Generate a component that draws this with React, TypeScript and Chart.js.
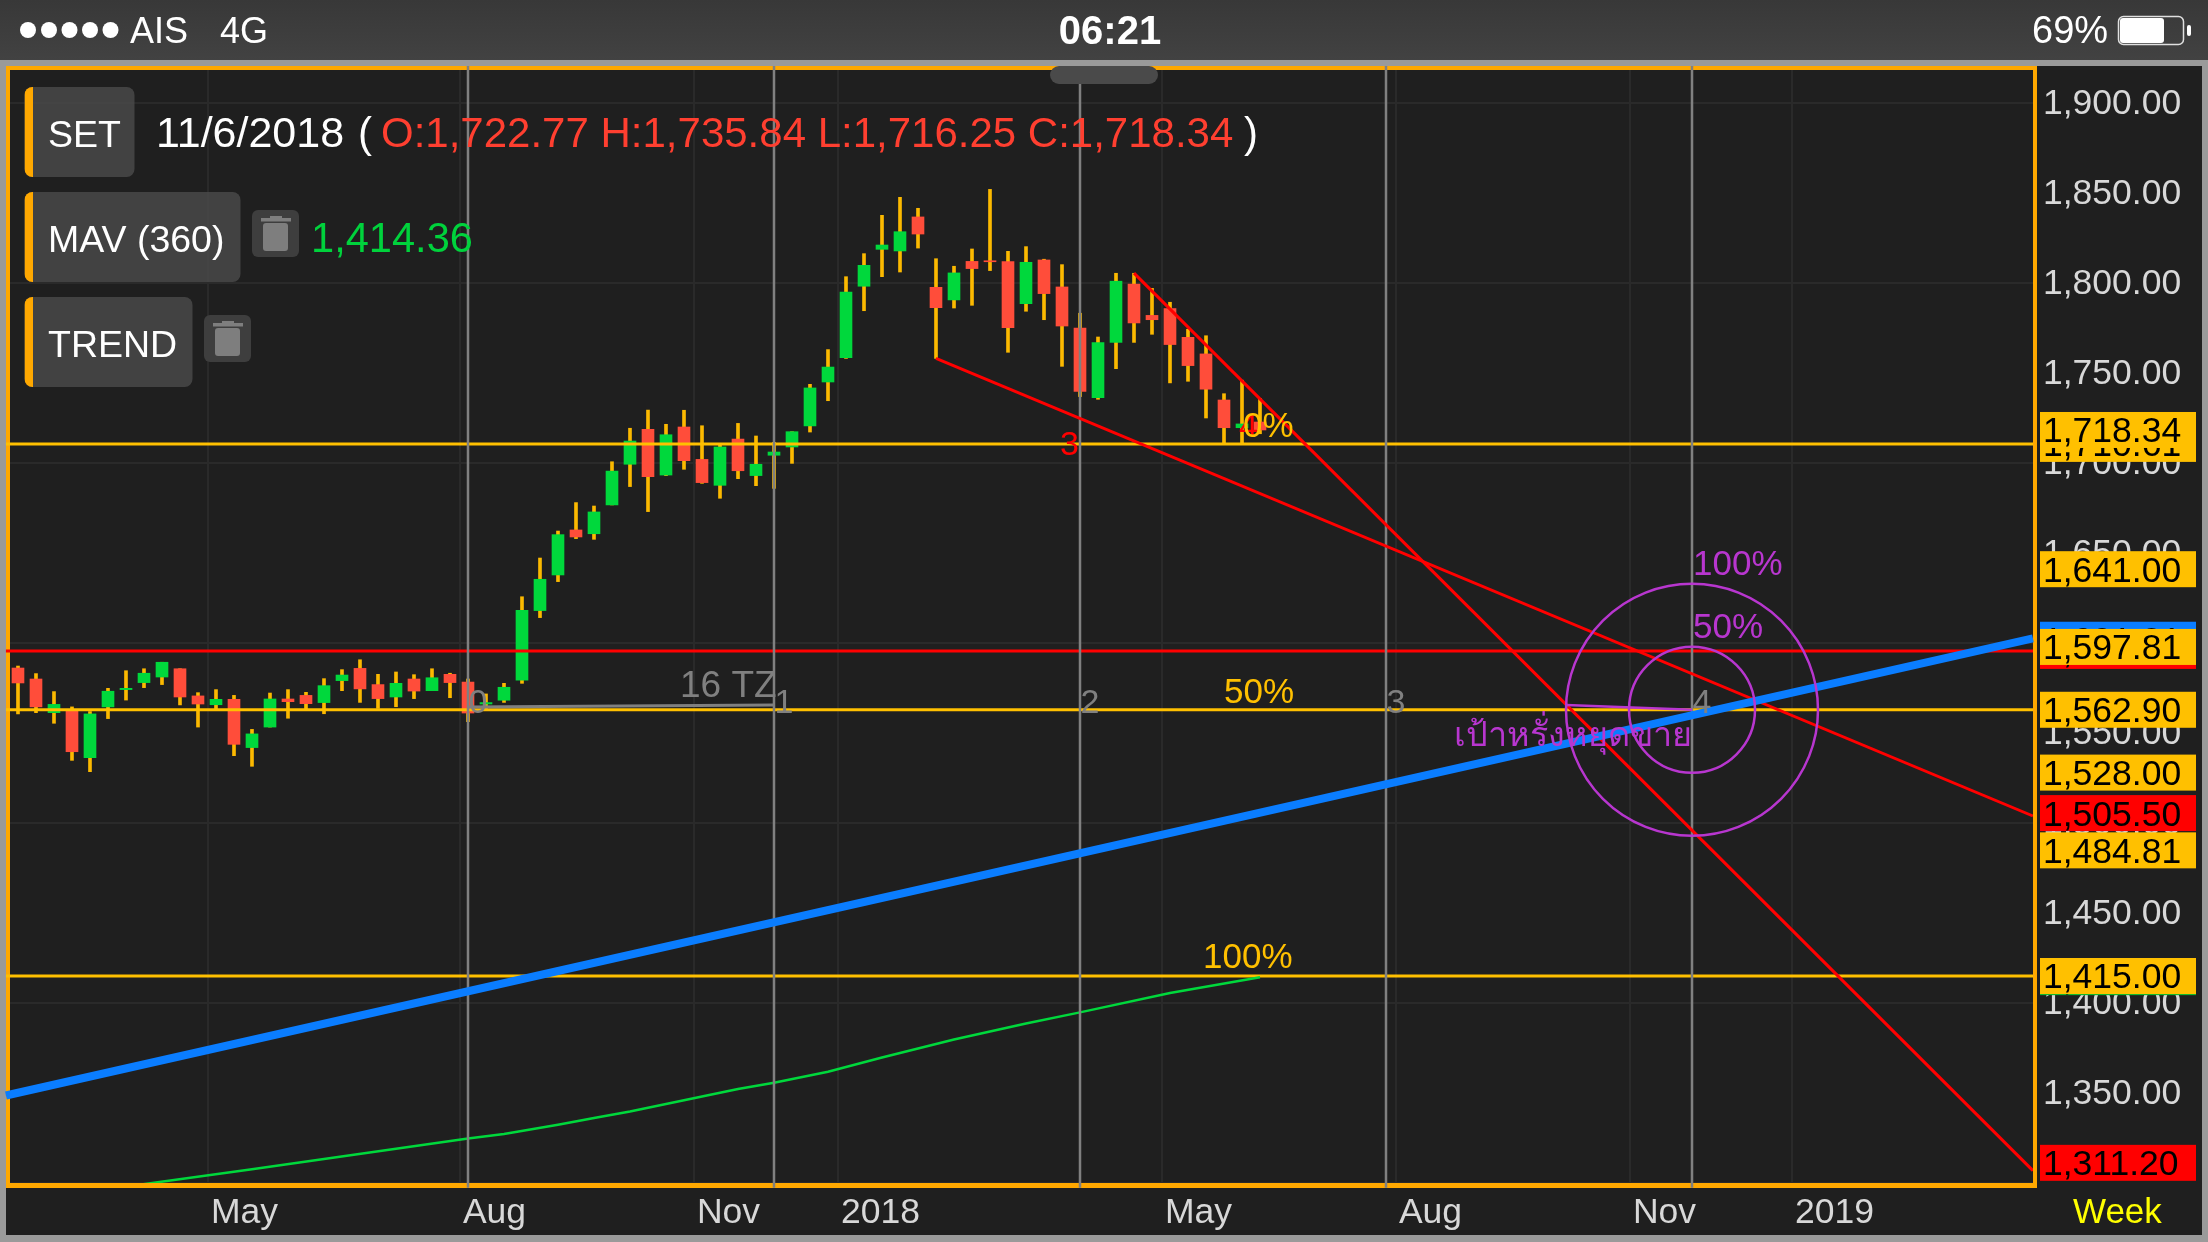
import React, { useEffect, useRef } from "react";
import { Chart, registerables } from "chart.js";

Chart.register(...registerables);

// ---- week index of each candle is its array position
const opens = [1586.1,1580.0,1561.3,1562.4,1536.3,1564.5,1574.1,1578.0,1581.1,1585.7,1570.6,1565.7,1568.7,1541.9,1553.3,1568.9,1570.9,1566.9,1579.1,1585.9,1576.9,1570.0,1580.0,1573.5,1582.6,1578.3,1566.1,1568.2,1579.4,1618.0,1637.8,1662.8,1660.7,1676.7,1699.3,1718.7,1693.3,1720.0,1702.0,1687.6,1713.3,1693.0,1704.3,1708.9,1720.6,1745.0,1758.5,1798.2,1818.7,1817.8,1836.7,1797.6,1790.6,1812.0,1812.2,1811.9,1788.5,1812.8,1797.8,1775.0,1736.3,1767.0,1799.4,1782.0,1785.8,1769.8,1760.6,1735.0,1719.6,1722.77];
const highs = [1587.2,1583.0,1573.0,1564.5,1561.9,1574.8,1584.6,1585.7,1589.3,1585.7,1572.4,1574.1,1570.9,1552.0,1572.2,1574.1,1572.6,1580.2,1585.2,1590.7,1582.6,1583.9,1582.4,1585.7,1583.2,1580.0,1571.7,1577.6,1625.7,1647.2,1662.2,1678.0,1676.1,1700.7,1719.3,1729.4,1721.5,1729.3,1720.7,1710.0,1722.0,1715.0,1711.5,1717.4,1743.7,1763.0,1803.5,1816.3,1837.6,1847.6,1841.5,1813.5,1809.3,1818.9,1852.0,1817.6,1820.2,1813.2,1810.2,1783.2,1770.0,1805.4,1805.4,1797.0,1789.3,1774.3,1770.7,1738.5,1746.0,1735.84];
const lows = [1560.6,1561.3,1555.4,1534.8,1528.5,1558.0,1568.3,1575.2,1576.9,1565.6,1553.3,1562.8,1537.4,1531.5,1553.3,1558.2,1562.8,1560.7,1573.5,1567.0,1563.7,1564.6,1569.1,1573.5,1569.6,1556.3,1562.8,1567.0,1577.6,1614.1,1634.1,1658.0,1657.6,1676.7,1686.9,1673.0,1693.0,1696.5,1688.7,1680.4,1691.3,1687.4,1685.9,1699.8,1717.2,1734.6,1758.1,1784.6,1803.5,1806.1,1819.4,1758.1,1786.1,1787.6,1806.9,1761.5,1784.3,1779.6,1753.7,1736.9,1735.4,1752.4,1767.0,1771.5,1744.5,1745.4,1725.0,1711.0,1711.0,1716.25];
const closes = [1577.8,1564.5,1565.9,1539.6,1560.6,1573.2,1574.8,1583.2,1589.3,1570.0,1566.1,1568.7,1543.7,1549.5,1568.9,1567.4,1566.3,1576.3,1582.2,1574.5,1569.1,1577.6,1573.3,1580.7,1578.0,1561.1,1566.9,1575.4,1618.1,1635.4,1660.2,1658.9,1672.8,1695.5,1712.2,1692.4,1715.7,1701.3,1689.1,1708.9,1695.7,1699.3,1706.1,1717.4,1741.7,1753.3,1795.0,1809.8,1821.1,1828.5,1827.2,1786.3,1805.6,1808.0,1811.8,1775.2,1811.5,1794.1,1776.1,1739.8,1766.9,1801.0,1777.8,1779.6,1765.8,1754.1,1741.0,1719.6,1721.7,1718.34];

const maIndex = [6,13,25,27,30,32,34,37,40,42,45,48,52,56,59,64,69];
const maValues = [1298,1307.6,1324.7,1327.2,1332.4,1336.1,1339.7,1346.0,1352.2,1355.7,1361.8,1369.7,1379.7,1388.6,1394.8,1405.6,1414.36];

const axisTickIndex = [10.55,24.55,37.55,45.55,63.55,76.55,89.55,98.55];
const axisTickLabels = ["May","Aug","Nov","2018","May","Aug","Nov","2019"];

const timeZoneIndex = [25,42,59,76,93];
const timeZoneLabels = ["0","1","2","3","4"];

const goldLevels = [1710.6,1562.9,1415];
const redLevel = 1595.6;

const blueTrendIndex = [-0.67,111.94];
const blueTrendValues = [1348.6,1602.6];
const redTrendAIndex = [62,111.94];
const redTrendAValues = [1805.5,1306.9];
const redTrendBIndex = [51,111.94];
const redTrendBValues = [1758.1,1503.9];

const tzBaseIndex = [25,42];
const tzBaseValues = [1564.4,1565.6];

const circleCentre = { index: 93, value: 1562.9 };
const circleOuterIndex = 86;
const circleEdgeValue = 1565.6;

const priceFlagValues = [1601.81,1595.6,1597.81,1710.61,1718.34,1641,1562.9,1528,1505.5,1484.81,1414.36,1415,1311.2];
const priceFlagColours = ["#0a7dff","#ff0000","#ffc000","#ffc000","#ffc000","#ffc000","#ffc000","#ffc000","#ff0000","#ffc000","#12b82c","#ffc000","#ff0000"];

const yMin = 1300, yMax = 1918.33, xMin = -0.444, xMax = 111.944, xEdge = -0.67;
const FONT = '"Liberation Sans", Arial, sans-serif';
const GOLD = "#ffc000", ORANGE = "#ffa800", RED = "#ff0000", PURPLE = "#b836cf", GRAY = "#808080";

const fmt = (v: number) =>
  v.toLocaleString("en-US", { minimumFractionDigits: 2, maximumFractionDigits: 2 });

function text(ctx: any, s: string, x: number, y: number, size: number, color: string, weight = "normal", align: any = "left") {
  ctx.font = `${weight} ${size}px ${FONT}`;
  ctx.fillStyle = color;
  ctx.textAlign = align;
  ctx.textBaseline = "alphabetic";
  ctx.fillText(s, x, y);
}

function rr(ctx: any, x: number, y: number, w: number, h: number, r: number, fill: any) {
  ctx.beginPath();
  ctx.roundRect(x, y, w, h, r);
  ctx.fillStyle = fill;
  ctx.fill();
}

function chip(ctx: any, x: number, y: number, w: number, h: number, label: string) {
  rr(ctx, x, y, w, h, 8, "rgba(72,72,72,0.88)");
  ctx.save();
  ctx.beginPath();
  ctx.roundRect(x, y, w, h, 8);
  ctx.clip();
  ctx.fillStyle = ORANGE;
  ctx.fillRect(x, y, 8.5, h);
  ctx.restore();
  text(ctx, label, x + 23.5, y + 60, 37.5, "#ffffff");
}

function trash(ctx: any, x: number, y: number) {
  rr(ctx, x, y, 47, 47, 6, "#3e3e3e");
  rr(ctx, x + 11, y + 13, 25, 28, 3, "#7e7e7e");
  ctx.fillStyle = "#7e7e7e";
  ctx.fillRect(x + 9, y + 8, 30, 3.5);
  ctx.fillRect(x + 18, y + 6, 12, 2.5);
}

const chromeBehind = {
  id: "chromeBehind",
  beforeDraw(chart: any) {
    const ctx = chart.ctx;
    ctx.save();
    ctx.fillStyle = "#9a9a9a";
    ctx.fillRect(0, 0, 2208, 1242);
    const g = ctx.createLinearGradient(0, 0, 0, 60);
    g.addColorStop(0, "#383838");
    g.addColorStop(1, "#424242");
    ctx.fillStyle = g;
    ctx.fillRect(0, 0, 2208, 60);
    ctx.fillStyle = "#1f1f1f";
    ctx.fillRect(6, 66, 2196, 1169);
    ctx.restore();
  },
  beforeDatasetsDraw(chart: any) {
    const ctx = chart.ctx;
    ctx.save();
    ctx.fillStyle = ORANGE;
    ctx.fillRect(6, 66, 2031, 4);
    ctx.fillRect(6, 1183, 2031, 5);
    ctx.fillRect(6, 66, 4, 1122);
    ctx.fillRect(2033, 66, 4, 1122);
    ctx.restore();
  },
};

const overlay = {
  id: "overlay",
  afterDatasetsDraw(chart: any) {
    const ctx = chart.ctx;
    const x = chart.scales.x, y = chart.scales.y;
    ctx.save();

    // Time zone numbers
    timeZoneIndex.forEach((v, k) => {
      text(ctx, timeZoneLabels[k], x.getPixelForValue(v) + 0.5, 713, 34, GRAY);
    });
    text(ctx, "16 TZ", x.getPixelForValue(42) - 94, 697, 37, GRAY);

    // Trend numbers
    text(ctx, "3", x.getPixelForValue(59) - 20, 455, 34, RED);
    text(ctx, "4", x.getPixelForValue(69) - 21, 437, 34, RED);

    // Fibonacci level labels
    text(ctx, "0%", x.getPixelForValue(69) - 17, 437, 35, GOLD);
    text(ctx, "50%", 1224, 703, 35, GOLD);
    text(ctx, "100%", 1203, 968, 35, GOLD);

    // Target circles
    const cx = x.getPixelForValue(circleCentre.index);
    const cy = y.getPixelForValue(circleCentre.value);
    const outer = cx - x.getPixelForValue(circleOuterIndex);
    ctx.strokeStyle = PURPLE;
    ctx.lineWidth = 2.5;
    [outer, outer / 2].forEach((r) => {
      ctx.beginPath();
      ctx.arc(cx, cy, r, 0, Math.PI * 2);
      ctx.stroke();
    });
    ctx.beginPath();
    ctx.moveTo(cx - outer, y.getPixelForValue(circleEdgeValue));
    ctx.lineTo(cx, cy);
    ctx.stroke();
    text(ctx, "100%", cx + 1, 575, 35, PURPLE);
    text(ctx, "50%", cx + 1, 638, 35, PURPLE);
    text(ctx, "เป้าหรั่งหยุดขาย", 1454, 746, 34.2, PURPLE);

    // Top handle
    rr(ctx, 1050, 66, 108, 18, 9, "#4a4a4a");

    // Price flags
    priceFlagValues.forEach((v, k) => {
      const py = y.getPixelForValue(v);
      ctx.fillStyle = priceFlagColours[k];
      ctx.fillRect(2040, py - 18, 156, 36);
      text(ctx, fmt(v), 2043, py + 12.5, 35.5, "#000000");
    });

    // "Week" period label
    text(ctx, "Week", 2073, 1223, 35, "#ffff00");

    // Header chips
    chip(ctx, 24.5, 87, 110, 90, "SET");
    chip(ctx, 24.5, 192, 216, 90, "MAV (360)");
    chip(ctx, 24.5, 297, 168, 90, "TREND");
    trash(ctx, 252, 210);
    trash(ctx, 204, 315);
    text(ctx, "11/6/2018", 156, 147, 43, "#ffffff");
    text(ctx, "(", 358, 147, 42, "#ffffff");
    text(ctx, `O:${fmt(opens[69])} H:${fmt(highs[69])} L:${fmt(lows[69])} C:${fmt(closes[69])}`, 381, 147, 42, "#ff3f30");
    text(ctx, ")", 1244, 147, 42, "#ffffff");
    text(ctx, fmt(maValues[maValues.length - 1]), 311, 252, 41.6, "#00d23c");

    // Status bar
    [28, 49, 69.5, 90, 110.5].forEach((dx) => {
      ctx.beginPath();
      ctx.arc(dx, 30, 8, 0, Math.PI * 2);
      ctx.fillStyle = "#ffffff";
      ctx.fill();
    });
    text(ctx, "AIS", 130, 43, 36, "#ffffff");
    text(ctx, "4G", 220, 43, 36, "#ffffff");
    text(ctx, "06:21", 1110, 44, 40, "#ffffff", "bold", "center");
    text(ctx, "69%", 2032, 43, 38, "#ffffff");
    ctx.strokeStyle = "#e0e0e0";
    ctx.lineWidth = 1.5;
    ctx.beginPath();
    ctx.roundRect(2118.5, 16.5, 65, 28, 5);
    ctx.stroke();
    rr(ctx, 2120, 18, 44, 25, 3, "#ffffff");
    rr(ctx, 2187, 25, 4, 11, 2, "#ffffff");

    ctx.restore();
  },
};

const pts = (xs: number[], ys: number[]) => xs.map((v, k) => ({ x: v, y: ys[k] }));
const lineSet = (data: any[], color: string, width: number, order: number, clip: any = undefined) => ({
  type: "line",
  data,
  borderColor: color,
  backgroundColor: color,
  borderWidth: width,
  pointRadius: 0,
  tension: 0,
  fill: false,
  order,
  ...(clip === undefined ? {} : { clip }),
});

export default function App() {
  const ref = useRef<HTMLCanvasElement | null>(null);
  useEffect(() => {
    document.body.style.margin = "0";
    document.body.style.background = "#9a9a9a";
    const idx = opens.map((_, k) => k);
    const chart = new Chart(ref.current as any, {
      type: "bar",
      data: {
        datasets: [
          {
            data: idx.map((k) => ({ x: k, y: [lows[k], highs[k]] })),
            backgroundColor: "#fcb900",
            barThickness: 3,
            grouped: false,
            order: 20,
          },
          {
            data: idx.map((k) => ({ x: k, y: [opens[k], closes[k]] })),
            backgroundColor: idx.map((k) => (closes[k] >= opens[k] ? "#00d83c" : "#ff4d3a")),
            barThickness: 12,
            grouped: false,
            minBarLength: 1,
            order: 19,
          },
          ...goldLevels.map((v) => lineSet([{ x: xEdge, y: v }, { x: xMax, y: v }], GOLD, 3, 12, false)),
          lineSet([{ x: xEdge, y: redLevel }, { x: xMax, y: redLevel }], RED, 3, 11, false),
          lineSet(pts(maIndex, maValues), "#00d83c", 2.5, 9),
          lineSet(pts(tzBaseIndex, tzBaseValues), GRAY, 3, 8),
          ...timeZoneIndex.map((v) => lineSet([{ x: v, y: 1297.3 }, { x: v, y: 1920.5 }], GRAY, 2.5, 7, false)),
          lineSet(pts(redTrendAIndex, redTrendAValues), RED, 3, 6),
          lineSet(pts(redTrendBIndex, redTrendBValues), RED, 3, 5),
          lineSet(pts(blueTrendIndex, blueTrendValues), "#0a7dff", 8, 4, false),
        ] as any,
      },
      options: {
        animation: false,
        responsive: false,
        devicePixelRatio: 1,
        events: [],
        layout: { padding: { left: 10, top: 70, right: 0, bottom: 0 } },
        plugins: { legend: { display: false }, tooltip: { enabled: false } },
        scales: {
          x: {
            type: "linear",
            min: xMin,
            max: xMax,
            offset: false,
            position: "bottom",
            border: { display: false },
            grid: { offset: false, color: "#2a2a2a", lineWidth: 2, drawTicks: false },
            afterBuildTicks: (s: any) => {
              s.ticks = axisTickIndex.map((v) => ({ value: v }));
            },
            afterFit: (s: any) => {
              s.height = 59;
            },
            ticks: {
              autoSkip: false,
              maxRotation: 0,
              minRotation: 0,
              align: "start",
              labelOffset: 3,
              padding: 9,
              color: "#d8d8d8",
              font: { family: FONT, size: 35.5 },
              callback: (_: any, k: number) => axisTickLabels[k],
            },
          },
          y: {
            type: "linear",
            position: "right",
            min: yMin,
            max: yMax,
            border: { display: false },
            grid: {
              color: (c: any) => (Math.round(c.tick.value) % 100 === 0 ? "#2a2a2a" : "rgba(0,0,0,0)"),
              lineWidth: 2,
              drawTicks: false,
            },
            afterFit: (s: any) => {
              s.width = 175;
            },
            ticks: {
              stepSize: 50,
              includeBounds: false,
              autoSkip: false,
              padding: 10,
              labelOffset: 1,
              color: "#d8d8d8",
              font: { family: FONT, size: 35.5 },
              callback: (v: any) => (v < 1350 ? "" : fmt(v)),
            },
          },
        },
      } as any,
      plugins: [chromeBehind, overlay],
    });
    return () => chart.destroy();
  }, []);
  return (
    <div style={{ position: "fixed", left: 0, top: 0, width: 2208, height: 1242 }}>
      <canvas ref={ref} width={2208} height={1242} style={{ display: "block", width: 2208, height: 1242 }} />
    </div>
  );
}
